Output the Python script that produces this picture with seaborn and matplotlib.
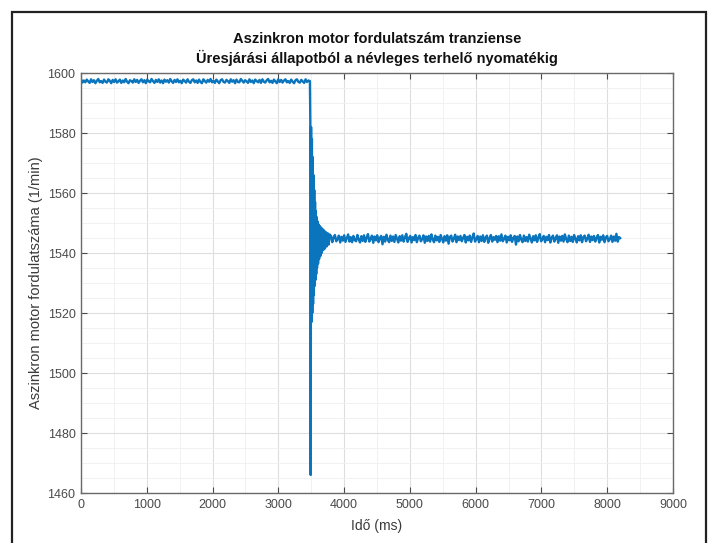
import numpy as np
import pandas as pd
import matplotlib
matplotlib.use("Agg")
import matplotlib.pyplot as plt
from matplotlib.patches import Rectangle
from matplotlib.ticker import MultipleLocator
import seaborn as sns

# Motor speed (1/min): no-load running before the load step
idle_speed = [
    1597.9, 1596.8, 1597.5, 1596.9, 1597.8, 1597.2, 1596.7, 1597.9, 1597.0, 1597.6,
    1596.6, 1597.4, 1598.0, 1596.9, 1597.3, 1596.7, 1597.8, 1597.1, 1596.8, 1597.9,
    1597.4, 1596.6, 1597.7, 1597.0, 1597.9, 1596.8, 1597.2, 1597.8, 1596.7, 1597.5,
    1596.9, 1598.0, 1597.1, 1596.6, 1597.6, 1597.3, 1596.8, 1597.9, 1597.0, 1597.7,
    1596.7, 1597.4, 1597.9, 1596.9, 1597.6, 1596.6, 1597.8, 1597.2, 1596.9, 1598.0,
    1597.3, 1596.7, 1597.7, 1597.0, 1597.9, 1596.8, 1597.5, 1596.6, 1597.8, 1597.1,
    1597.6, 1596.8, 1598.0, 1597.2, 1596.7, 1597.7, 1597.0, 1597.9, 1596.9, 1597.4,
    1596.6, 1597.8, 1597.3, 1596.8, 1597.9, 1597.1, 1596.7, 1597.6, 1597.9, 1596.9,
    1597.5, 1596.7, 1597.8, 1597.0, 1596.6, 1597.9, 1597.3, 1596.8, 1597.7, 1597.1,
    1598.0, 1596.9, 1597.4, 1596.7, 1597.8, 1597.2, 1596.6, 1597.6, 1597.9, 1597.0,
    1596.8, 1597.7, 1597.3, 1596.7, 1597.9, 1597.1, 1597.6, 1596.6, 1597.8, 1597.0,
    1596.9, 1598.0, 1597.4, 1596.8, 1597.6, 1597.2, 1596.7, 1597.9, 1597.0, 1597.5,
    1596.6, 1597.8, 1597.3, 1596.9, 1597.7, 1596.7, 1597.9, 1597.1, 1596.8, 1597.6,
    1598.0, 1596.9, 1597.4, 1596.7, 1597.8, 1597.2, 1596.6, 1597.9, 1597.0, 1597.7,
    1596.8, 1597.5, 1597.9, 1596.9, 1597.3, 1596.7, 1597.8, 1597.1, 1596.6, 1597.6,
    1597.9, 1597.0, 1596.8, 1597.7, 1597.2, 1596.7, 1597.9, 1597.0, 1597.5, 1597.3,
]
idle_start_ms, idle_end_ms = 0, 3480

# Load step: speed dip and decaying oscillation
transient_time = [
    3486, 3492, 3498, 3504, 3510, 3516, 3522, 3528, 3534, 3540,
    3546, 3552, 3558, 3564, 3570, 3576, 3582, 3588, 3596, 3604,
    3612, 3620, 3630, 3640, 3650, 3660, 3672, 3684, 3696, 3708,
    3720, 3735, 3750, 3765, 3780,
]
transient_speed = [
    1584.0, 1466.0, 1582.0, 1517.0, 1578.0, 1520.0, 1572.0, 1523.0, 1566.0, 1526.0,
    1561.0, 1529.0, 1557.0, 1531.0, 1554.0, 1533.0, 1552.0, 1535.0, 1550.5, 1536.5,
    1549.5, 1538.0, 1549.0, 1539.0, 1548.5, 1540.0, 1548.0, 1541.0, 1547.5, 1541.5,
    1547.0, 1542.2, 1546.6, 1542.8, 1546.2,
]

# Steady state under nominal load torque
loaded_speed = [
    1545.7, 1543.6, 1545.2, 1546.0, 1543.9, 1544.6, 1545.8, 1543.5, 1545.4, 1544.1,
    1545.9, 1543.7, 1544.9, 1546.2, 1543.8, 1545.3, 1543.6, 1545.7, 1544.3, 1543.9,
    1546.0, 1544.5, 1543.5, 1545.6, 1544.0, 1545.9, 1543.7, 1545.1, 1546.3, 1543.8,
    1544.7, 1545.8, 1543.4, 1545.5, 1544.2, 1545.9, 1543.6, 1545.0, 1545.7, 1542.9,
    1545.4, 1543.8, 1546.1, 1544.4, 1543.6, 1545.8, 1544.0, 1545.5, 1543.7, 1546.0,
    1544.8, 1543.5, 1545.6, 1544.1, 1545.9, 1543.8, 1545.2, 1546.4, 1543.7, 1544.9,
    1545.7, 1543.5, 1545.3, 1544.3, 1546.0, 1543.6, 1545.1, 1545.8, 1543.9, 1544.6,
    1545.9, 1543.4, 1545.5, 1544.0, 1545.7, 1543.8, 1546.2, 1544.5, 1543.6, 1545.8,
    1544.2, 1545.4, 1543.7, 1546.0, 1544.7, 1543.5, 1545.6, 1544.1, 1545.9, 1543.1,
    1545.3, 1545.8, 1543.8, 1544.8, 1546.1, 1543.6, 1545.5, 1544.3, 1545.7, 1543.9,
    1545.0, 1546.0, 1543.5, 1545.4, 1544.2, 1545.8, 1543.7, 1545.2, 1546.5, 1543.8,
    1544.6, 1545.7, 1543.6, 1545.5, 1544.0, 1545.9, 1543.7, 1545.1, 1545.8, 1543.4,
    1544.9, 1546.0, 1543.8, 1545.3, 1544.4, 1545.7, 1543.6, 1545.6, 1544.1, 1546.2,
    1543.9, 1544.7, 1545.8, 1543.5, 1545.4, 1544.2, 1545.9, 1543.7, 1545.0, 1545.7,
    1542.8, 1545.5, 1543.9, 1546.0, 1544.5, 1543.6, 1545.8, 1544.0, 1545.3, 1543.8,
    1546.1, 1544.8, 1543.5, 1545.6, 1544.2, 1545.9, 1543.7, 1545.2, 1546.3, 1543.9,
    1544.6, 1545.7, 1543.6, 1545.4, 1544.3, 1546.0, 1543.5, 1545.1, 1545.8, 1543.8,
    1544.9, 1545.9, 1543.4, 1545.5, 1544.1, 1545.7, 1543.8, 1546.2, 1544.6, 1543.6,
    1545.8, 1544.0, 1545.4, 1543.7, 1546.0, 1544.7, 1543.5, 1545.6, 1544.2, 1545.9,
    1543.6, 1545.3, 1545.8, 1543.9, 1544.8, 1546.1, 1543.7, 1545.5, 1544.3, 1545.7,
    1543.8, 1545.0, 1546.0, 1543.5, 1545.4, 1544.4, 1545.9, 1543.6, 1545.2, 1545.7,
    1543.9, 1544.6, 1545.8, 1543.7, 1545.5, 1544.1, 1546.4, 1543.8, 1545.3, 1544.9,
]
loaded_start_ms, loaded_end_ms = 3800, 8200

x_ticks = [0, 1000, 2000, 3000, 4000, 5000, 6000, 7000, 8000, 9000]
y_ticks = [1460, 1480, 1500, 1520, 1540, 1560, 1580, 1600]

title_text = "Aszinkron motor fordulatszám tranziense\nÜresjárási állapotból a névleges terhelő nyomatékig"
x_label = "Idő (ms)"
y_label = "Aszinkron motor fordulatszáma (1/min)"

# One time series from the three recorded segments
idle_time = np.linspace(idle_start_ms, idle_end_ms, len(idle_speed))
loaded_time = np.linspace(loaded_start_ms, loaded_end_ms, len(loaded_speed))
df = pd.DataFrame({
    "t": np.concatenate([idle_time, transient_time, loaded_time]),
    "n": np.concatenate([idle_speed, transient_speed, loaded_speed]),
})

sns.set_theme(style="white")
plt.rcParams["font.family"] = ["Liberation Sans", "DejaVu Sans"]

fig = plt.figure(figsize=(7.13, 5.43), dpi=100)
W, H = 713, 543
ax = fig.add_axes([81 / W, 1 - 493 / H, (673 - 81) / W, (493 - 73) / H])

sns.lineplot(data=df, x="t", y="n", ax=ax, estimator=None, sort=False,
             color="#0a74bd", linewidth=1.7)

ax.set_xlim(0, 9000)
ax.set_ylim(1460, 1600)
ax.set_xticks(x_ticks)
ax.set_yticks(y_ticks)
ax.xaxis.set_minor_locator(MultipleLocator(500))
ax.yaxis.set_minor_locator(MultipleLocator(5))

ax.grid(which="major", color="#dedede", linewidth=0.8)
ax.grid(which="minor", color="#efefef", linewidth=0.6)
ax.set_axisbelow(True)

tick_color = "#4a4a4a"
ax.tick_params(which="major", direction="in", length=4, width=0.8,
               top=True, right=True, bottom=True, left=True,
               colors=tick_color, labelsize=9, pad=4)
ax.tick_params(which="minor", length=0)
for s in ax.spines.values():
    s.set_color("#6a6a6a")
    s.set_linewidth(1.0)

ax.set_xlabel(x_label, fontsize=10, color="#3a3a3a", labelpad=6)
ax.set_ylabel(y_label, fontsize=10.5, color="#3a3a3a", labelpad=3)
ax.set_title(title_text, fontsize=10.5, fontweight="bold", color="#111111",
             pad=7, linespacing=1.3)

# Outer frame around the figure
fig.add_artist(Rectangle((12 / W, -0.05), (706 - 12) / W, 1 - 12 / H + 0.05,
                         transform=fig.transFigure, fill=False,
                         edgecolor="#222222", linewidth=1.6))

fig.savefig("out.png", dpi=100, facecolor="white")
